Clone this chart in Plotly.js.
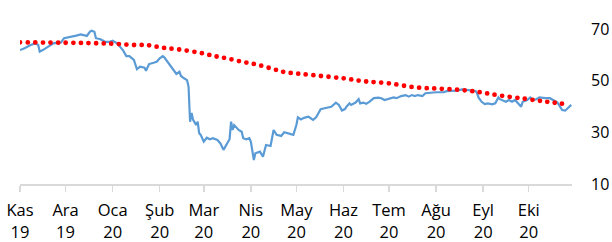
<!DOCTYPE html>
<html>
<head>
<meta charset="utf-8">
<script src="https://cdn.plot.ly/plotly-3.0.1.min.js"></script>
<style>
html,body{margin:0;padding:0;background:#fff;}
#chart{width:612px;height:242px;}
.trend-dots path.js-line{stroke-linecap:round;}
</style>
</head>
<body>
<div id="chart"></div>
<script>
// Blue series (daily index values)
const priceDates = [
"2019-11-01","2019-11-04","2019-11-08","2019-11-11","2019-11-13","2019-11-14","2019-11-16","2019-11-20","2019-11-23","2019-11-26","2019-11-28","2019-11-30",
"2019-12-02","2019-12-05","2019-12-08","2019-12-11","2019-12-14","2019-12-15","2019-12-17","2019-12-18","2019-12-20","2019-12-21","2019-12-24","2019-12-27","2019-12-30",
"2020-01-01","2020-01-04","2020-01-06","2020-01-08","2020-01-10","2020-01-12","2020-01-15","2020-01-17","2020-01-19","2020-01-22","2020-01-23","2020-01-25","2020-01-28","2020-01-30",
"2020-02-01","2020-02-03","2020-02-04","2020-02-07","2020-02-10","2020-02-12","2020-02-14","2020-02-15","2020-02-17","2020-02-19","2020-02-20","2020-02-21","2020-02-22","2020-02-23","2020-02-25","2020-02-26","2020-02-27","2020-02-28",
"2020-03-01","2020-03-03","2020-03-05","2020-03-07","2020-03-10","2020-03-12","2020-03-14","2020-03-16","2020-03-18","2020-03-19","2020-03-20","2020-03-21","2020-03-24","2020-03-26","2020-03-27","2020-03-29","2020-03-31",
"2020-04-01","2020-04-03","2020-04-04","2020-04-07","2020-04-09","2020-04-11","2020-04-14","2020-04-16","2020-04-18","2020-04-21","2020-04-23","2020-04-27","2020-04-29",
"2020-05-01","2020-05-02","2020-05-04","2020-05-06","2020-05-09","2020-05-12","2020-05-14","2020-05-17","2020-05-21","2020-05-24","2020-05-27","2020-05-29","2020-05-31",
"2020-06-02","2020-06-03","2020-06-05","2020-06-06","2020-06-09","2020-06-11","2020-06-12","2020-06-14","2020-06-16","2020-06-18","2020-06-21","2020-06-24","2020-06-26","2020-06-28",
"2020-07-01","2020-07-04","2020-07-06","2020-07-09","2020-07-12","2020-07-14","2020-07-16","2020-07-18","2020-07-20","2020-07-23","2020-07-25","2020-07-28",
"2020-08-01","2020-08-06","2020-08-08","2020-08-11","2020-08-15","2020-08-18","2020-08-21","2020-08-24","2020-08-27","2020-08-28","2020-08-29","2020-08-31",
"2020-09-02","2020-09-04","2020-09-07","2020-09-09","2020-09-11","2020-09-12","2020-09-15","2020-09-16","2020-09-18","2020-09-20","2020-09-22","2020-09-24","2020-09-26","2020-09-27","2020-09-30",
"2020-10-02","2020-10-04","2020-10-06","2020-10-08","2020-10-12","2020-10-15","2020-10-17","2020-10-20","2020-10-23","2020-10-25","2020-10-26","2020-10-28","2020-10-29"
];
const priceValues = [
61.8,62.5,63.8,64.4,63.8,61.2,61.8,63.1,64.4,64.7,64.8,66.4,
66.6,67.0,67.4,67.9,67.6,67.3,68.9,69.3,68.9,66.4,66.0,65.0,65.0,
65.4,64.4,63.1,61.6,59.5,59.5,58.0,54.4,55.4,55.0,53.8,56.4,56.9,57.3,
58.6,59.5,59.0,56.7,54.1,52.6,53.4,51.8,50.9,50.2,47.6,34.1,37.5,34.8,32.8,34.1,29.6,29.0,
26.4,27.9,27.3,27.7,27.0,25.7,23.2,25.1,27.3,34.1,30.9,32.8,30.9,30.2,27.7,27.3,27.7,
26.4,19.3,21.9,22.5,20.6,25.1,24.7,30.9,29.0,28.6,30.0,29.2,29.0,
32.8,35.8,35.0,35.6,36.0,34.8,35.8,38.9,39.5,39.9,41.5,40.6,38.4,
39.0,39.9,41.2,40.6,41.5,42.8,41.2,41.5,41.0,41.8,43.2,43.4,43.2,42.5,
43.0,43.5,43.2,44.0,44.4,43.8,44.4,44.0,44.4,44.0,45.1,45.3,
45.5,45.5,45.9,46.0,46.1,46.6,46.4,46.1,46.0,45.1,43.4,41.8,
40.9,41.2,40.8,41.2,43.5,42.8,42.2,41.8,42.5,41.8,42.5,41.2,39.9,41.8,42.5,
43.5,42.5,42.8,43.5,43.2,43.2,42.5,41.5,38.6,38.4,38.9,40.2,40.6
];

// Red dotted trend line
const trendDates = [
"2019-11-01","2019-12-31","2020-01-14","2020-01-24","2020-02-03","2020-02-13","2020-02-27",
"2020-03-08","2020-03-17","2020-03-27","2020-04-05","2020-04-15","2020-04-23","2020-05-02",
"2020-05-17","2020-06-02","2020-06-15","2020-06-30","2020-07-18","2020-08-02","2020-08-17",
"2020-08-30","2020-09-09","2020-09-28","2020-10-13","2020-10-27"
];
const trendValues = [
64.8,64.3,63.8,63.7,62.7,62.1,60.8,
59.5,58.5,57.2,56.2,54.6,53.3,52.7,
51.8,50.8,49.7,49.0,47.4,46.9,46.4,
45.5,44.5,43.0,41.8,40.8
];

// Axis ticks
const tickDates = ["2019-11-01","2019-12-01","2020-01-01","2020-02-01","2020-03-01","2020-04-01",
                   "2020-05-01","2020-06-01","2020-07-01","2020-08-01","2020-09-01","2020-10-01"];
const tickLabels = ["Kas<br>19","Ara<br>19","Oca<br>20","Şub<br>20","Mar<br>20","Nis<br>20",
                    "May<br>20","Haz<br>20","Tem<br>20","Ağu<br>20","Eyl<br>20","Eki<br>20"];
const yTicks = [10,30,50,70];

const FONT = "'Open Sans', 'Liberation Sans', sans-serif";

const traces = [
  {
    x: priceDates, y: priceValues, type: "scatter", mode: "lines",
    line: {color: "#5B9BD5", width: 2.2}, hoverinfo: "skip", showlegend: false
  },
  {
    x: trendDates, y: trendValues, type: "scatter", mode: "lines",
    line: {color: "#FF0000", width: 4.8, dash: "0px,7.6px", shape: "spline"},
    hoverinfo: "skip", showlegend: false
  }
];

const layout = {
  width: 612, height: 242,
  margin: {l: 20, r: 40, t: 13, b: 58, pad: 0},
  paper_bgcolor: "#ffffff", plot_bgcolor: "#ffffff",
  font: {family: FONT, size: 16.5, color: "#000000"},
  showlegend: false,
  xaxis: {
    type: "date",
    range: ["2019-11-01", "2020-10-29 12:00"],
    tickmode: "array", tickvals: tickDates, ticktext: tickLabels,
    ticks: "outside", ticklen: 6, tickwidth: 1.5, tickcolor: "#D9D9D9",
    showline: true, linecolor: "#D9D9D9", linewidth: 1.5,
    showgrid: false, zeroline: false,
    tickangle: 0,
    ticklabelstandoff: 5,
    tickfont: {family: FONT, size: 16.5, color: "#000000"}
  },
  yaxis: {
    side: "right",
    range: [10, 76.15],
    tickmode: "array", tickvals: yTicks, ticktext: yTicks.map(String),
    ticks: "", showline: false, showgrid: false, zeroline: false,
    ticklabelstandoff: 18,
    tickfont: {family: FONT, size: 16, color: "#000000"}
  }
};

Plotly.newPlot("chart", traces, layout, {staticPlot: true, displayModeBar: false}).then(function(gd){
  const tr = gd.querySelectorAll(".scatterlayer .trace");
  if (tr[1]) tr[1].classList.add("trend-dots");
});
</script>
</body>
</html>
